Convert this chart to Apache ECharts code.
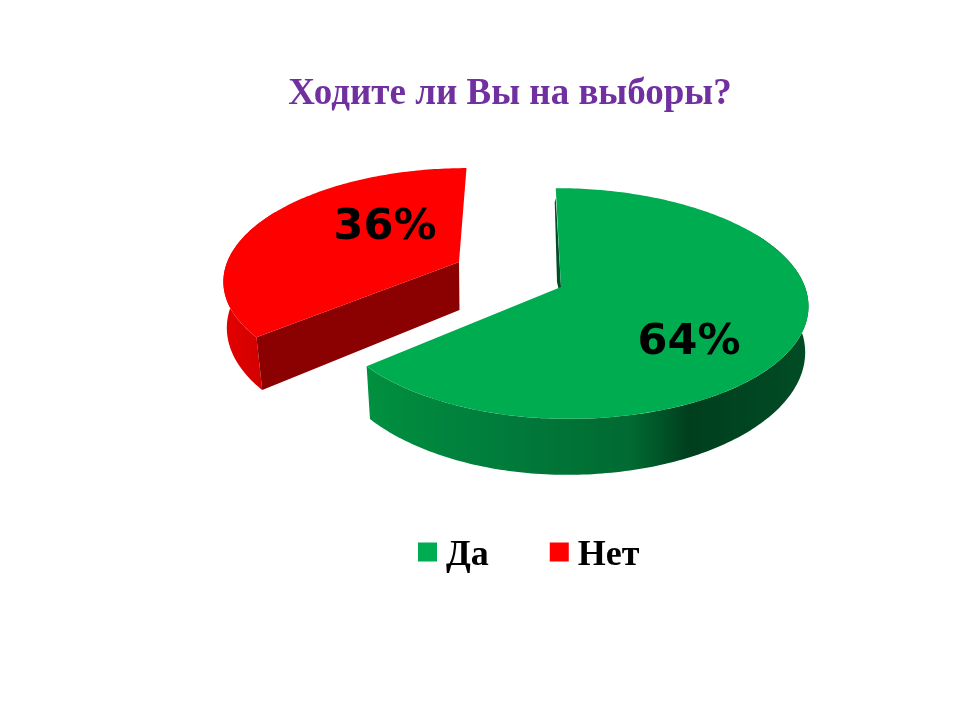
<!DOCTYPE html>
<html><head><meta charset="utf-8">
<style>html,body{margin:0;padding:0;background:#fff}#c{width:960px;height:720px}</style>
<script src="https://cdn.jsdelivr.net/npm/echarts@6/dist/echarts.min.js"></script>
</head><body><div id="c"></div>
<script>
const titleText = 'Ходите ли Вы на выборы?';
const categories = ['Да', 'Нет'];
const values = [64, 36];
const percentLabels = ['64%', '36%'];

// Perspective disc geometry, applied to the angles that come from the values.
const VX = 519, K = 0.143, RX = 244, RY = 113, DEPTH = 48;
const looks = [
  { apexX: 561, apexY: 287, scale: 1, leftScale: 0.96, top: '#00AC50', inner: '#004D26', label: [689, 343], wallFrom: 60, wallTo: 999,
    outer: [[0, '#00903F'], [0.27, '#007E3C'], [0.60, '#006A32'], [0.73, '#003F1E'], [1, '#004C25']], gx: [366, 808] },
  { apexX: 459, apexY: 262, scale: 0.95, leftScale: 1, top: '#FF0000', inner: '#8B0000', label: [385, 228], wallFrom: 0, wallTo: 300,
    outer: [[0, '#E60000'], [1, '#D20000']], gx: [222, 262] }
];

function project(look, deg, r, low) {
  const t = deg * Math.PI / 180, c = Math.cos(t), s = Math.sin(t);
  const den = 1 + K * c * r;
  const rx = RX * look.scale * (s < 0 ? look.leftScale : 1);
  let x = (look.apexX - VX + rx * r * s) / den;
  let y = look.apexY - RY * look.scale * r * c / den;
  if (low) { x *= 0.992 + 0.022 * Math.min(0, c * r); y += DEPTH / den; }
  return [VX + x, y];
}
function arc(look, a, b, low) {
  const pts = [];
  const n = Math.ceil(Math.abs(b - a));
  for (let i = 0; i <= n; i++) pts.push(project(look, a + (b - a) * i / n, 1, low));
  return pts;
}
const total = values.reduce((p, q) => p + q, 0);
let acc = 0;
const spans = values.map(v => { const a = acc; acc += v; return [a / total * 360, acc / total * 360]; });

function renderSlice(idx) {
  return function () {
    const look = looks[idx], a = spans[idx][0], b = spans[idx][1];
    const topArc = arc(look, a, b, false);
    const wa = Math.max(a, look.wallFrom), wb = Math.min(b, look.wallTo);
    const wallTop = arc(look, wa, wb, false), wallLow = arc(look, wa, wb, true);
    const apexTop = project(look, 0, 0, false), apexLow = project(look, 0, 0, true);
    const kids = [];
    const poly = (points, fill) => kids.push({ type: 'polygon', shape: { points }, style: { fill, stroke: null }, silent: true });
    poly(wallTop.concat(wallLow.slice().reverse()),
      new echarts.graphic.LinearGradient(look.gx[0], 0, look.gx[1], 0, look.outer.map(s => ({ offset: s[0], color: s[1] })), true));
    if (idx === 0) {
      // wall seen at the start edge of the big slice
      const e = topArc[0];
      poly([[e[0], e[1] + 10], apexTop, [apexTop[0] - 1, apexTop[1] + 8], [apexTop[0] - 4, apexTop[1] - 5], [e[0] - 1, e[1] + 14]], look.inner);
    } else {
      const e = topArc[0], f = wallLow[0];
      poly([apexTop, e, f, apexLow], look.inner);
    }
    poly([apexTop].concat(topArc), look.top);
    kids.push({ type: 'text', silent: true, style: {
      text: percentLabels[idx], x: look.label[0], y: look.label[1], align: 'center', verticalAlign: 'middle',
      font: 'bold 43px "DejaVu Sans"', fill: '#000' } });
    return { type: 'group', children: kids };
  };
}

const chart = echarts.init(document.getElementById('c'), null, { renderer: 'canvas' });
// Red is painted first so that the green slice sits in front.
const order = [1, 0];
chart.setOption({
  animation: false,
  backgroundColor: '#fff',
  title: { text: titleText, left: 505, top: 71, textAlign: 'center',
    textStyle: { fontFamily: 'Liberation Serif', fontWeight: 'bold', fontSize: 37, color: '#7030A0' } },
  legend: { data: categories, left: 413, top: 533, icon: 'rect', itemWidth: 19, itemHeight: 19, itemGap: 61,
    formatter: '{t|{name}}',
    textStyle: { rich: { t: { fontFamily: 'Liberation Serif', fontWeight: 'bold', fontSize: 36, color: '#000', padding: [8,0,0,4] } } } },
  series: order.map(i => ({
    type: 'custom', name: categories[i], coordinateSystem: 'none', silent: true,
    itemStyle: { color: looks[i].top },
    data: [values[i]], renderItem: renderSlice(i)
  }))
});
</script></body></html>
